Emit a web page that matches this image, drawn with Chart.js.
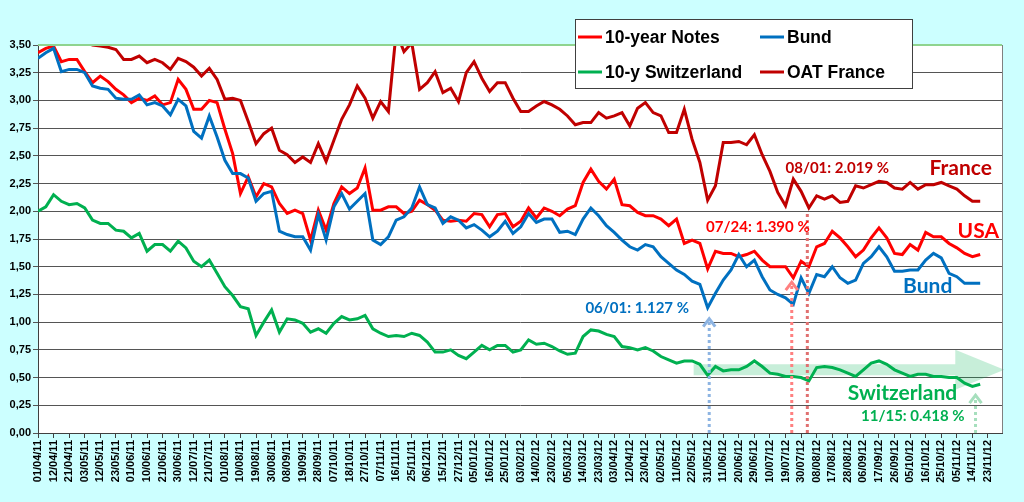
<!DOCTYPE html>
<html>
<head>
<meta charset="utf-8">
<script src="https://cdn.jsdelivr.net/npm/chart.js@4.4.0/dist/chart.umd.min.js"></script>
<style>
html, body { margin: 0; padding: 0; background: #ccffff; }
#wrap { width: 1024px; height: 502px; position: relative; }
</style>
</head>
<body>
<div id="wrap"><canvas id="yields"></canvas></div>
<script>
// tick labels, one every 7 sessions
const dateLabels = ['01/04/11','12/04/11','21/04/11','03/05/11','12/05/11','23/05/11','01/06/11','10/06/11','21/06/11','30/06/11',
  '12/07/11','21/07/11','01/08/11','10/08/11','19/08/11','30/08/11','08/09/11','19/09/11','28/09/11','07/10/11',
  '18/10/11','27/10/11','07/11/11','16/11/11','25/11/11','06/12/11','15/12/11','27/12/11','05/01/12','16/01/12',
  '25/01/12','03/02/12','14/02/12','23/02/12','05/03/12','14/03/12','23/03/12','03/04/12','12/04/12','23/04/12',
  '02/05/12','11/05/12','22/05/12','31/05/12','11/06/12','20/06/12','29/06/12','10/07/12','19/07/12','30/07/12',
  '08/08/12','17/08/12','28/08/12','06/09/12','17/09/12','26/09/12','05/10/12','16/10/12','25/10/12','05/11/12',
  '14/11/12','23/11/12'];

// yields, one reading every half tick interval
const notesUS = [3.43,3.47,3.49,3.35,3.37,3.37,3.26,3.16,3.22,3.17,
  3.10,3.05,2.98,3.02,3.00,3.04,2.96,2.98,3.19,3.10,
  2.92,2.92,3.00,2.98,2.74,2.52,2.16,2.31,2.13,2.25,
  2.22,2.07,1.98,2.01,1.98,1.74,2.01,1.83,2.07,2.22,
  2.16,2.21,2.39,2.01,2.01,2.04,2.04,1.98,2.00,2.10,
  2.06,2.01,1.92,1.91,1.92,1.91,1.98,1.97,1.86,1.97,
  1.98,1.86,1.91,2.03,1.94,2.03,2.00,1.96,2.02,2.05,
  2.26,2.38,2.27,2.20,2.29,2.06,2.05,1.99,1.96,1.96,
  1.93,1.87,1.93,1.71,1.74,1.71,1.48,1.64,1.62,1.62,
  1.59,1.61,1.64,1.56,1.50,1.50,1.50,1.40,1.55,1.50,
  1.68,1.71,1.82,1.76,1.68,1.59,1.65,1.76,1.85,1.76,
  1.62,1.61,1.70,1.65,1.81,1.77,1.77,1.71,1.67,1.62,
  1.59,1.61];
const bund = [3.38,3.43,3.47,3.26,3.28,3.28,3.25,3.13,3.11,3.10,
  3.02,3.01,3.01,3.05,2.96,2.98,2.95,2.87,3.01,2.95,
  2.72,2.66,2.86,2.67,2.46,2.34,2.34,2.30,2.09,2.16,
  2.18,1.82,1.79,1.77,1.77,1.65,1.97,1.74,2.04,2.16,
  2.02,2.09,2.16,1.74,1.70,1.77,1.92,1.95,2.03,2.22,
  2.06,2.03,1.89,1.95,1.92,1.85,1.88,1.83,1.77,1.82,
  1.91,1.80,1.86,1.98,1.90,1.93,1.93,1.81,1.82,1.79,
  1.93,2.03,1.96,1.87,1.81,1.74,1.68,1.65,1.70,1.68,
  1.59,1.53,1.47,1.43,1.37,1.34,1.13,1.26,1.38,1.47,
  1.61,1.50,1.56,1.41,1.29,1.25,1.22,1.16,1.40,1.26,
  1.43,1.41,1.50,1.40,1.35,1.38,1.53,1.59,1.68,1.59,
  1.46,1.46,1.47,1.47,1.56,1.62,1.58,1.44,1.41,1.35,
  1.35,1.35];
const swiss = [2.00,2.04,2.15,2.09,2.06,2.07,2.03,1.92,1.89,1.89,
  1.83,1.82,1.76,1.80,1.64,1.70,1.70,1.64,1.73,1.67,
  1.55,1.50,1.56,1.44,1.32,1.24,1.14,1.12,0.88,1.00,
  1.11,0.91,1.03,1.02,0.99,0.91,0.94,0.90,0.99,1.05,
  1.02,1.03,1.06,0.94,0.90,0.87,0.88,0.87,0.90,0.88,
  0.82,0.73,0.73,0.75,0.70,0.67,0.73,0.79,0.75,0.79,
  0.79,0.73,0.75,0.84,0.80,0.81,0.78,0.74,0.71,0.72,
  0.87,0.93,0.92,0.89,0.87,0.78,0.77,0.75,0.77,0.74,
  0.69,0.66,0.63,0.65,0.65,0.62,0.52,0.60,0.56,0.57,
  0.57,0.60,0.65,0.60,0.54,0.53,0.51,0.51,0.50,0.47,
  0.59,0.60,0.59,0.57,0.54,0.51,0.57,0.63,0.65,0.62,
  0.57,0.54,0.51,0.53,0.53,0.51,0.51,0.50,0.50,0.45,
  0.42,0.44];
const oatFrance = [3.60,3.65,3.70,3.62,3.60,3.58,3.53,3.50,3.49,3.48,
  3.46,3.37,3.37,3.40,3.34,3.37,3.34,3.28,3.38,3.35,
  3.30,3.22,3.29,3.19,3.01,3.02,3.00,2.81,2.61,2.70,
  2.75,2.55,2.51,2.44,2.49,2.44,2.61,2.45,2.64,2.83,
  2.96,3.13,3.02,2.84,2.99,2.90,3.62,3.44,3.52,3.10,
  3.16,3.26,3.07,3.11,2.99,3.25,3.35,3.20,3.08,3.16,
  3.16,3.02,2.90,2.90,2.95,2.99,2.96,2.92,2.86,2.78,
  2.80,2.80,2.89,2.84,2.86,2.89,2.77,2.93,2.98,2.89,
  2.86,2.71,2.71,2.92,2.65,2.44,2.10,2.23,2.62,2.62,
  2.63,2.60,2.69,2.51,2.36,2.17,2.05,2.29,2.18,2.03,
  2.14,2.11,2.14,2.08,2.09,2.23,2.21,2.24,2.27,2.26,
  2.21,2.20,2.26,2.20,2.24,2.24,2.26,2.23,2.20,2.14,
  2.09,2.09];

const seriesNames = ['10-year Notes', 'Bund', '10-y Switzerland', 'OAT France'];
const seriesColors = ['#ff0000', '#0070c0', '#00b050', '#c00000'];

// callouts: [x in tick units, y in %]
const callouts = [
  { text: '08/01: 2.019 %', color: '#c00000', size: 15, at: [48.0, 2.39] },
  { text: 'France', color: '#c00000', size: 21, at: [57.25, 2.39] },
  { text: '07/24: 1.390 %', color: '#ff0000', size: 15, at: [42.9, 1.86] },
  { text: 'USA', color: '#ff0000', size: 21, at: [59.05, 1.82] },
  { text: '06/01: 1.127 %', color: '#0070c0', size: 15, at: [35.15, 1.13] },
  { text: 'Bund', color: '#0070c0', size: 21, at: [55.55, 1.32] },
  { text: 'Switzerland', color: '#00b050', size: 21, at: [52.0, 0.36] },
  { text: '11/15: 0.418 %', color: '#00b050', size: 15, at: [52.85, 0.15] }
];
const dropLines = [
  { x: 43.1, top: 1.04, color: '#8db4e2', head: true },
  { x: 48.4, top: 1.37, color: '#ff8080', head: true },
  { x: 49.4, top: 2.00, color: '#e07070', head: false },
  { x: 60.2, top: 0.35, color: '#a6dfbd', head: true }
];

const mk = arr => arr.map((v, k) => ({ x: k / 2, y: v }));

const background = {
  id: 'background',
  beforeDraw(chart) {
    const { ctx, chartArea: a } = chart;
    ctx.save();
    ctx.fillStyle = '#ccffff';
    ctx.fillRect(0, 0, chart.width, chart.height);
    ctx.fillStyle = '#ffffff';
    ctx.fillRect(a.left, a.top, a.right - a.left, a.bottom - a.top);
    ctx.restore();
  },
  beforeDatasetsDraw(chart) {
    // big pale trend arrow behind the lines
    const { ctx, scales: { x, y } } = chart;
    const x0 = x.getPixelForValue(42.1), xh = x.getPixelForValue(58.9), xt = x.getPixelForValue(62.05);
    const ym = y.getPixelForValue(0.57);
    const hs = y.getPixelForValue(0.52) - ym, hh = y.getPixelForValue(0.39) - ym;
    ctx.save();
    ctx.fillStyle = 'rgba(0,176,80,0.22)';
    ctx.beginPath();
    ctx.moveTo(x0, ym - hs);
    ctx.lineTo(xh, ym - hs);
    ctx.lineTo(xh, ym - hh);
    ctx.lineTo(xt, ym);
    ctx.lineTo(xh, ym + hh);
    ctx.lineTo(xh, ym + hs);
    ctx.lineTo(x0, ym + hs);
    ctx.closePath();
    ctx.fill();
    ctx.restore();
  },
  afterDatasetsDraw(chart) {
    const { ctx, chartArea: a, scales: { x, y } } = chart;
    ctx.save();
    // dotted drop lines with open heads
    dropLines.forEach(d => {
      const px = x.getPixelForValue(d.x), pt = y.getPixelForValue(d.top);
      ctx.strokeStyle = d.color;
      ctx.lineWidth = 3;
      ctx.setLineDash([3, 3]);
      ctx.beginPath();
      ctx.moveTo(px, a.bottom);
      ctx.lineTo(px, pt + (d.head ? 3 : 0));
      ctx.stroke();
      ctx.setLineDash([]);
      if (d.head) {
        ctx.beginPath();
        ctx.moveTo(px - 6, pt + 9);
        ctx.lineTo(px, pt + 1);
        ctx.lineTo(px + 6, pt + 9);
        ctx.stroke();
      }
    });
    // callout texts
    ctx.textAlign = 'left';
    ctx.textBaseline = 'middle';
    callouts.forEach(c => {
      ctx.font = 'bold ' + c.size + 'px Lato';
      ctx.fillStyle = c.color;
      ctx.fillText(c.text, x.getPixelForValue(c.at[0]), y.getPixelForValue(c.at[1]));
    });
    // frame: green top, grey right
    ctx.lineWidth = 1;
    ctx.strokeStyle = '#808080';
    ctx.beginPath();
    ctx.moveTo(a.right + 0.5, a.top);
    ctx.lineTo(a.right + 0.5, a.bottom);
    ctx.stroke();
    ctx.strokeStyle = '#8fd48f';
    ctx.lineWidth = 2;
    ctx.beginPath();
    ctx.moveTo(a.left, a.top);
    ctx.lineTo(a.right, a.top);
    ctx.stroke();
    ctx.restore();
  },
  afterDraw(chart) {
    // legend box, 2 x 2
    const ctx = chart.ctx;
    ctx.save();
    ctx.fillStyle = '#ffffff';
    ctx.fillRect(575, 19, 337, 69);
    ctx.strokeStyle = '#404040';
    ctx.lineWidth = 1;
    ctx.strokeRect(575.5, 19.5, 337, 69);
    ctx.font = 'bold 17.5px "Liberation Sans"';
    ctx.textBaseline = 'middle';
    ctx.textAlign = 'left';
    const cols = [578, 760], rows = [37, 72];
    seriesNames.forEach((name, k) => {
      const lx = cols[k % 2], ly = rows[Math.floor(k / 2)];
      ctx.strokeStyle = seriesColors[k];
      ctx.lineWidth = 3;
      ctx.beginPath();
      ctx.moveTo(lx, ly);
      ctx.lineTo(lx + 24, ly);
      ctx.stroke();
      ctx.fillStyle = '#000000';
      ctx.fillText(name, lx + 27, ly + 1);
    });
    ctx.restore();
  }
};

const seriesData = [notesUS, bund, swiss, oatFrance];
const drawOrder = [3, 2, 1, 0];

new Chart(document.getElementById('yields'), {
  type: 'line',
  data: {
    datasets: seriesData.map((arr, k) => ({
      label: seriesNames[k],
      data: mk(arr),
      borderColor: seriesColors[k],
      backgroundColor: seriesColors[k],
      borderWidth: 3,
      pointRadius: 0,
      tension: 0,
      order: drawOrder[k]
    }))
  },
  options: {
    responsive: true,
    maintainAspectRatio: false,
    animation: false,
    devicePixelRatio: 1,
    layout: { padding: { top: 45, right: 22, left: 0, bottom: 0 } },
    plugins: {
      legend: { display: false },
      tooltip: { enabled: false }
    },
    scales: {
      x: {
        type: 'linear',
        min: 0,
        max: 61.9,
        afterFit(s) { s.height = 69; },
        border: { color: '#404040', width: 1 },
        grid: { drawOnChartArea: false, drawTicks: true, tickLength: 5, color: '#404040' },
        ticks: {
          stepSize: 1,
          includeBounds: false,
          autoSkip: false,
          minRotation: 90,
          maxRotation: 90,
          padding: 2,
          color: '#000000',
          font: { family: '"Liberation Sans"', size: 11, weight: 'bold' },
          callback: v => dateLabels[Math.round(v)] || ''
        }
      },
      y: {
        min: 0,
        max: 3.5,
        afterFit(s) { s.width = 38; },
        border: { color: '#404040', width: 1 },
        grid: { color: '#555555', lineWidth: 1, tickLength: 5 },
        ticks: {
          stepSize: 0.25,
          padding: 2,
          color: '#000000',
          font: { family: '"Liberation Sans"', size: 11, weight: 'bold' },
          callback: v => v.toFixed(2).replace('.', ',')
        }
      }
    }
  },
  plugins: [background]
});
</script>
</body>
</html>
